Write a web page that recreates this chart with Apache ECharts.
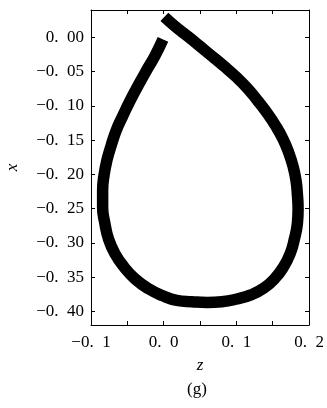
<!DOCTYPE html>
<html>
<head>
<meta charset="utf-8">
<script src="https://cdn.jsdelivr.net/npm/echarts@6/dist/echarts.min.js"></script>
<style>
  html, body { margin: 0; padding: 0; background: #fff; }
  #main { width: 327px; height: 408px; }
</style>
</head>
<body>
<div id="main"></div>
<script>
// trajectory, in order along the curve
const zValues = [0.001, 0.017, 0.034, 0.050, 0.066, 0.083, 0.099, 0.115, 0.129, 0.142,
  0.154, 0.164, 0.172, 0.178, 0.182, 0.184, 0.185, 0.184, 0.180, 0.174,
  0.165, 0.153, 0.138, 0.120, 0.101, 0.080, 0.060, 0.039, 0.018, -0.002,
  -0.021, -0.039, -0.054, -0.067, -0.076, -0.081, -0.084, -0.084, -0.082, -0.078,
  -0.072, -0.065, -0.056, -0.046, -0.035, -0.024, -0.012, -0.001]
const xValues = [0.030, 0.015, 0.001, -0.013, -0.027, -0.042, -0.057, -0.074, -0.092, -0.110,
  -0.129, -0.148, -0.168, -0.188, -0.208, -0.229, -0.251, -0.272, -0.294, -0.316,
  -0.335, -0.352, -0.366, -0.376, -0.382, -0.386, -0.387, -0.386, -0.384, -0.377,
  -0.367, -0.353, -0.336, -0.316, -0.294, -0.271, -0.248, -0.224, -0.201, -0.179,
  -0.157, -0.135, -0.114, -0.092, -0.070, -0.049, -0.027, -0.003]

const zTicks = [-0.1, -0.05, 0, 0.05, 0.1, 0.15, 0.2]
const zLabels = [-0.1, 0, 0.1, 0.2]
const xTicks = [0, -0.05, -0.1, -0.15, -0.2, -0.25, -0.3, -0.35, -0.4]

const font = '"Liberation Serif", "DejaVu Serif", serif'

function fmt(v, digits) {
  const s = Math.abs(v).toFixed(digits).replace('.', '.\u2002')
  return (v < -1e-9 ? '\u2212' : '') + s
}

const chart = echarts.init(document.getElementById('main'), null, { renderer: 'canvas' })

const axisLine = { show: true, onZero: false, lineStyle: { color: '#000', width: 1 } }
const tick = (vals) => ({ show: true, inside: true, length: 4, customValues: vals, lineStyle: { color: '#000' } })

const option = {
  backgroundColor: '#fff',
  animation: false,
  grid: { left: 91, right: 18, top: 10, bottom: 83, outerBoundsMode: 'none' },
  xAxis: [{
    type: 'value', position: 'bottom', min: -0.1, max: 0.2,
    axisLine: axisLine,
    axisTick: tick(zTicks),
    splitLine: { show: false },
    axisLabel: {
      customValues: zLabels, margin: 9, color: '#000', fontSize: 17, fontFamily: font,
      formatter: v => fmt(v, 1)
    },
    name: 'z', nameLocation: 'middle', nameGap: 32,
    nameTextStyle: { color: '#000', fontSize: 17, fontStyle: 'italic', fontFamily: font }
  }, {
    type: 'value', position: 'top', min: -0.1, max: 0.2,
    axisLine: axisLine,
    axisTick: tick(zTicks),
    splitLine: { show: false },
    axisLabel: { show: false }
  }],
  yAxis: [{
    type: 'value', position: 'left', min: -0.42, max: 0.04,
    axisLine: axisLine,
    axisTick: tick(xTicks),
    splitLine: { show: false },
    axisLabel: {
      customValues: xTicks, margin: 7, color: '#000', fontSize: 17, fontFamily: font,
      formatter: v => fmt(v, 2)
    },
    name: 'x', nameLocation: 'middle', nameGap: 70, nameRotate: 90,
    nameTextStyle: { color: '#000', fontSize: 17, fontStyle: 'italic', fontFamily: font }
  }, {
    type: 'value', position: 'right', min: -0.42, max: 0.04,
    axisLine: axisLine,
    axisTick: tick(xTicks),
    splitLine: { show: false },
    axisLabel: { show: false }
  }],
  graphic: [{
    type: 'text', x: 197, y: 390,
    style: { text: '(g)', fill: '#000', font: '17px ' + font, textAlign: 'center', textVerticalAlign: 'middle' }
  }],
  series: [{
    type: 'line',
    xAxisIndex: 0, yAxisIndex: 0,
    data: zValues.map((z, i) => [z, xValues[i]]),
    showSymbol: false,
    smooth: 0.5,
    lineStyle: { color: '#000', width: 11.5, cap: 'butt', join: 'round' }
  }]
}

chart.setOption(option)
</script>
</body>
</html>
